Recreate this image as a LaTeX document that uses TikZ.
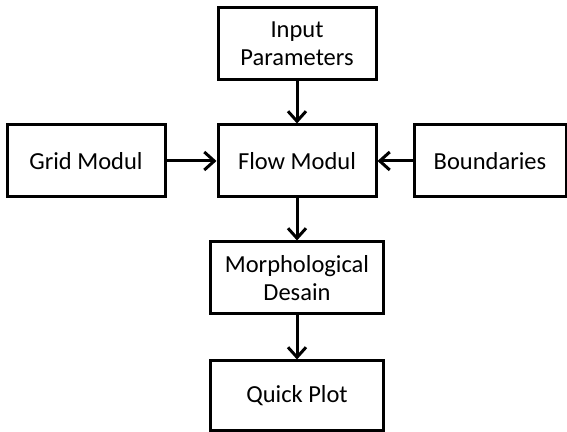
\documentclass[tikz,border=0pt]{standalone}
\usepackage{fontspec}
\setmainfont{Carlito}
\usetikzlibrary{positioning,arrows.meta}

\begin{document}
\begin{tikzpicture}[x=0.5pt,y=0.5pt,node distance=58.75pt,on grid,
   block/.style={draw,line width=1.5pt,minimum width=79pt,minimum height=36pt,
      align=center,font=\fontsize{12.25}{14}\selectfont},
   link/.style={-{Straight Barb[length=5pt,width=9pt]},line width=1.5pt}]
   \useasboundingbox (0,0) rectangle (567,432);
   \node[block] (flow) at (297,271) {Flow Modul};
   \node[block] (input) [above=of flow] {Input\\Parameters};
   \node[block] (grid) [left=105.5pt of flow] {Grid Modul};
   \node[block,minimum width=76pt] (bound) [right=96.5pt of flow] {Boundaries};
   \node[block,minimum width=86.5pt] (morph) [below=58.5pt of flow] {Morphological\\Desain};
   \node[block,minimum width=86.5pt,minimum height=35pt] (plot) [below=59pt of morph] {Quick Plot};
   \path[link]
   (input) edge (flow)
   (grid) edge (flow)
   (bound) edge (flow)
   (flow) edge (morph)
   (morph) edge (plot);
\end{tikzpicture}
\end{document}
